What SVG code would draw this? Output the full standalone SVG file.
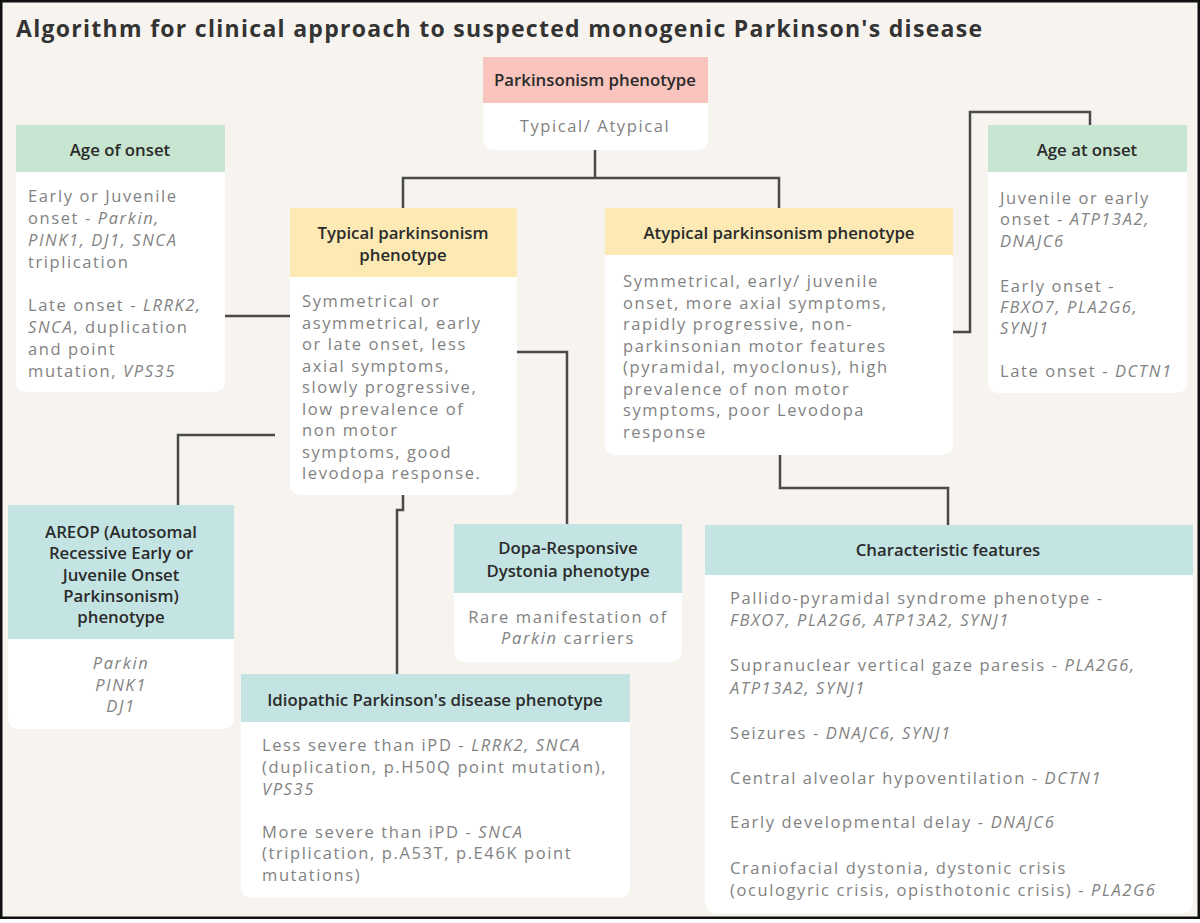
<svg xmlns="http://www.w3.org/2000/svg" width="1200" height="923" viewBox="0 0 1200 923">
<style>
.bg{fill:#f7f4f0}
.frame{fill:none;stroke:#111;stroke-width:2.5}
.box{fill:#ffffff}
.pink{fill:#f9c4bd}
.green{fill:#c7e5d0}
.yellow{fill:#fce9b3}
.teal{fill:#c3e4e3}
.title{font-family:"Open Sans","Liberation Sans",sans-serif;font-weight:700;font-size:23px;fill:#333}
.hd{font-family:"Open Sans","Liberation Sans",sans-serif;font-weight:600;font-size:16.8px;fill:#2b2b2b;text-anchor:middle}
.tx{font-family:"Open Sans","Liberation Sans",sans-serif;font-size:16.5px;letter-spacing:1.6px;fill:#828282}
.c{text-anchor:middle}
.i{font-style:italic}
.conn{fill:none;stroke:#4a4a4a;stroke-width:2.5}
</style>
<rect x="0" y="0" width="1200" height="923" fill="#ffffff"/>
<rect class="bg" x="1" y="1" width="1198" height="917"/>
<rect class="frame" x="1.25" y="1.25" width="1197.5" height="916.5"/>
<text class="title" x="16" y="37" textLength="966">Algorithm for clinical approach to suspected monogenic Parkinson's disease</text>

<g id="connectors">
<path class="conn" d="M595,150 V178"/>
<path class="conn" d="M403,208 V178 H779 V208"/>
<path class="conn" d="M225,316 H290"/>
<path class="conn" d="M275,435 H178 V505"/>
<path class="conn" d="M517,352 H567 V524"/>
<path class="conn" d="M403,495 V510 H397 V674"/>
<path class="conn" d="M953,332 H970 V112 H1090 V125"/>
<path class="conn" d="M780,455 V488 H948 V525"/>
</g>

<g id="parkinsonism">
<rect class="box" x="483" y="57" width="225" height="93" rx="10"/>
<rect class="pink" x="483" y="57" width="225" height="46"/>
<text class="hd" x="595" y="86">Parkinsonism phenotype</text>
<text class="tx c" x="595" y="132">Typical/ Atypical</text>
</g>

<g id="age-of-onset">
<rect class="box" x="16" y="125" width="209" height="267" rx="10"/>
<rect class="green" x="16" y="125" width="209" height="47"/>
<text class="hd" x="120" y="156">Age of onset</text>
<text class="tx" x="28" y="202">Early or Juvenile</text>
<text class="tx" x="28" y="224">onset - <tspan class="i">Parkin,</tspan></text>
<text class="tx" x="28" y="246"><tspan class="i">PINK1, DJ1, SNCA</tspan></text>
<text class="tx" x="28" y="268">triplication</text>
<text class="tx" x="28" y="311">Late onset - <tspan class="i">LRRK2,</tspan></text>
<text class="tx" x="28" y="333"><tspan class="i">SNCA</tspan>, duplication</text>
<text class="tx" x="28" y="355">and point</text>
<text class="tx" x="28" y="377">mutation, <tspan class="i">VPS35</tspan></text>
</g>

<g id="typical">
<rect class="box" x="290" y="208" width="227" height="287" rx="10"/>
<rect class="yellow" x="290" y="208" width="227" height="69"/>
<text class="hd" x="403" y="239">Typical parkinsonism</text>
<text class="hd" x="403" y="261">phenotype</text>
<text class="tx" x="302" y="307">Symmetrical or</text>
<text class="tx" x="302" y="328.5">asymmetrical, early</text>
<text class="tx" x="302" y="350">or late onset, less</text>
<text class="tx" x="302" y="371.5">axial symptoms,</text>
<text class="tx" x="302" y="393">slowly progressive,</text>
<text class="tx" x="302" y="414.5">low prevalence of</text>
<text class="tx" x="302" y="436">non motor</text>
<text class="tx" x="302" y="457.5">symptoms, good</text>
<text class="tx" x="302" y="479">levodopa response.</text>
</g>

<g id="atypical">
<rect class="box" x="605" y="208" width="348" height="247" rx="10"/>
<rect class="yellow" x="605" y="208" width="348" height="47"/>
<text class="hd" x="779" y="239">Atypical parkinsonism phenotype</text>
<text class="tx" x="623" y="287">Symmetrical, early/ juvenile</text>
<text class="tx" x="623" y="308.5">onset, more axial symptoms,</text>
<text class="tx" x="623" y="330">rapidly progressive, non-</text>
<text class="tx" x="623" y="351.5">parkinsonian motor features</text>
<text class="tx" x="623" y="373">(pyramidal, myoclonus), high</text>
<text class="tx" x="623" y="394.5">prevalence of non motor</text>
<text class="tx" x="623" y="416">symptoms, poor Levodopa</text>
<text class="tx" x="623" y="437.5">response</text>
</g>

<g id="age-at-onset">
<rect class="box" x="988" y="125" width="199" height="268" rx="10"/>
<rect class="green" x="988" y="125" width="199" height="47"/>
<text class="hd" x="1087" y="156">Age at onset</text>
<text class="tx" x="1000" y="204">Juvenile or early</text>
<text class="tx" x="1000" y="225">onset - <tspan class="i">ATP13A2,</tspan></text>
<text class="tx" x="1000" y="247"><tspan class="i">DNAJC6</tspan></text>
<text class="tx" x="1000" y="292">Early onset -</text>
<text class="tx" x="1000" y="313"><tspan class="i">FBXO7, PLA2G6,</tspan></text>
<text class="tx" x="1000" y="334"><tspan class="i">SYNJ1</tspan></text>
<text class="tx" x="1000" y="377">Late onset - <tspan class="i">DCTN1</tspan></text>
</g>

<g id="areop">
<rect class="box" x="8" y="505" width="226" height="224" rx="10"/>
<rect class="teal" x="8" y="505" width="226" height="134"/>
<text class="hd" x="121" y="538">AREOP (Autosomal</text>
<text class="hd" x="121" y="559">Recessive Early or</text>
<text class="hd" x="121" y="580.5">Juvenile Onset</text>
<text class="hd" x="121" y="602">Parkinsonism)</text>
<text class="hd" x="121" y="623">phenotype</text>
<text class="tx c i" x="121" y="669">Parkin</text>
<text class="tx c i" x="121" y="690.5">PINK1</text>
<text class="tx c i" x="121" y="712">DJ1</text>
</g>

<g id="dopa">
<rect class="box" x="454" y="524" width="228" height="138" rx="10"/>
<rect class="teal" x="454" y="524" width="228" height="69"/>
<text class="hd" x="568" y="554">Dopa-Responsive</text>
<text class="hd" x="568" y="577">Dystonia phenotype</text>
<text class="tx c" x="568" y="623">Rare manifestation of</text>
<text class="tx c" x="568" y="644"><tspan class="i">Parkin</tspan> carriers</text>
</g>

<g id="idiopathic">
<rect class="box" x="241" y="674" width="389" height="224" rx="10"/>
<rect class="teal" x="241" y="674" width="389" height="48"/>
<text class="hd" x="435" y="706">Idiopathic Parkinson's disease phenotype</text>
<text class="tx" x="262" y="751">Less severe than iPD - <tspan class="i">LRRK2, SNCA</tspan></text>
<text class="tx" x="262" y="773">(duplication, p.H50Q point mutation),</text>
<text class="tx" x="262" y="795"><tspan class="i">VPS35</tspan></text>
<text class="tx" x="262" y="838">More severe than iPD - <tspan class="i">SNCA</tspan></text>
<text class="tx" x="262" y="859">(triplication, p.A53T, p.E46K point</text>
<text class="tx" x="262" y="881">mutations)</text>
</g>

<g id="characteristic">
<rect class="box" x="705" y="525" width="488" height="388" rx="10"/>
<rect class="teal" x="705" y="525" width="488" height="50"/>
<text class="hd" x="948" y="556">Characteristic features</text>
<text class="tx" x="730" y="604">Pallido-pyramidal syndrome phenotype -</text>
<text class="tx" x="730" y="626"><tspan class="i">FBXO7, PLA2G6, ATP13A2, SYNJ1</tspan></text>
<text class="tx" x="730" y="671">Supranuclear vertical gaze paresis - <tspan class="i">PLA2G6,</tspan></text>
<text class="tx" x="730" y="694"><tspan class="i">ATP13A2, SYNJ1</tspan></text>
<text class="tx" x="730" y="739">Seizures - <tspan class="i">DNAJC6, SYNJ1</tspan></text>
<text class="tx" x="730" y="784">Central alveolar hypoventilation - <tspan class="i">DCTN1</tspan></text>
<text class="tx" x="730" y="828">Early developmental delay - <tspan class="i">DNAJC6</tspan></text>
<text class="tx" x="730" y="874">Craniofacial dystonia, dystonic crisis</text>
<text class="tx" x="730" y="896">(oculogyric crisis, opisthotonic crisis) - <tspan class="i">PLA2G6</tspan></text>
</g>
</svg>
